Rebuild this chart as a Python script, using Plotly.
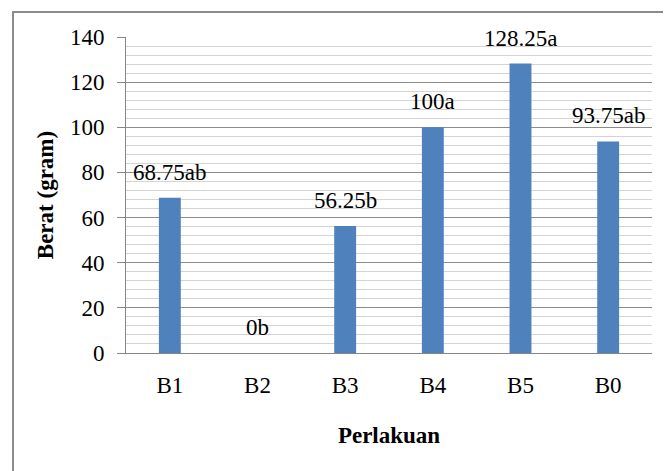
import plotly.graph_objects as go

categories = ["B1", "B2", "B3", "B4", "B5", "B0"]
values = [68.75, 0, 56.25, 100, 128.25, 93.75]
labels = ["68.75ab", "0b", "56.25b", "100a", "128.25a", "93.75ab"]
y_ticks = [0, 20, 40, 60, 80, 100, 120, 140]

FONT = "Liberation Serif"
FS = 23

fig = go.Figure()
fig.add_trace(go.Bar(
    x=categories, y=values,
    marker=dict(color="#4F81BD", line=dict(width=0)),
    width=0.25,
))

for c, v, t in zip(categories, values, labels):
    fig.add_annotation(x=c, y=v, text=t, showarrow=False, yanchor="bottom",
                       yshift=11, font=dict(family=FONT, size=FS, color="black"))

# figure border (left & top visible)
fig.add_shape(type="rect", xref="paper", yref="paper",
              x0=-0.2148, x1=1.3, y0=-0.6, y1=1.079,
              line=dict(color="#8c8c8c", width=2), layer="below")

# page body has an 8px margin, so the figure is sized to fit the window
fig.update_layout(
    width=663, height=463,
    margin=dict(l=118, r=19, t=29, b=118, autoexpand=False),
    paper_bgcolor="white", plot_bgcolor="white",
    showlegend=False,
    font=dict(family=FONT, size=FS, color="black"),
    xaxis=dict(
        automargin=False,
        showline=True, linecolor="#868686", linewidth=1,
        ticks="", ticklabelstandoff=11,
        tickfont=dict(family=FONT, size=FS),
        title=dict(text="<b>Perlakuan</b>", standoff=30,
                   font=dict(family=FONT, size=FS)),
    ),
    yaxis=dict(
        automargin=False,
        range=[0, 140], tickvals=y_ticks,
        showline=True, linecolor="#868686", linewidth=1,
        ticks="outside", ticklen=8, tickcolor="#868686",
        ticklabelstandoff=8,
        showgrid=True, gridcolor="#8c8c8c", gridwidth=1,
        minor=dict(dtick=4, showgrid=True, gridcolor="#d4d4d4", gridwidth=1, ticks=""),
        zeroline=False,
        tickfont=dict(family=FONT, size=FS),
        title=dict(text="<b>Berat (gram)</b>", standoff=9,
                   font=dict(family=FONT, size=FS)),
    ),
)

fig.write_html("out.html")
